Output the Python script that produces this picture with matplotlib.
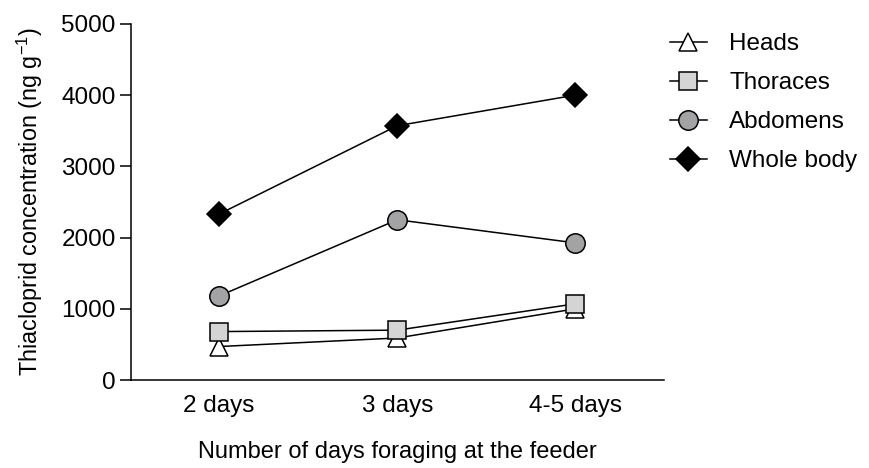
import matplotlib.pyplot as plt

plt.rcParams['font.family'] = ['Liberation Sans', 'DejaVu Sans']
plt.rcParams['mathtext.default'] = 'regular'

days = ["2 days", "3 days", "4-5 days"]
heads = [470, 590, 1000]
thoraces = [680, 700, 1070]
abdomens = [1180, 2250, 1925]
whole_body = [2330, 3570, 4000]

fig = plt.figure(figsize=(8.69, 4.68), dpi=100)
ax = fig.add_axes([0.1507, 0.188, 0.613, 0.761])

x = range(len(days))
ax.plot(x, heads, color="black", lw=1.1, marker="^", ms=13.5, mfc="white", mec="black", mew=1.1, label="Heads")
ax.plot(x, thoraces, color="black", lw=1.1, marker="s", ms=13.5, mfc="#d4d4d4", mec="black", mew=1.1, label="Thoraces")
ax.plot(x, abdomens, color="black", lw=1.1, marker="o", ms=14, mfc="#a3a3a6", mec="black", mew=1.1, label="Abdomens")
ax.plot(x, whole_body, color="black", lw=1.1, marker="D", ms=12, mfc="black", mec="black", mew=1.1, label="Whole body")

ax.set_xlim(-0.495, 2.495)
ax.set_ylim(0, 5000)
ax.set_xticks(list(x))
ax.set_xticklabels(days)
ax.set_yticks([0, 1000, 2000, 3000, 4000, 5000])
ax.tick_params(axis="x", length=0, pad=11, labelsize=17.5)
ax.tick_params(axis="y", length=8, width=1.1, pad=3, labelsize=17.5)
ax.spines["top"].set_visible(False)
ax.spines["right"].set_visible(False)
ax.spines["left"].set_linewidth(1.1)
ax.spines["bottom"].set_linewidth(1.1)

ax.set_xlabel("Number of days foraging at the feeder", fontsize=17, labelpad=17)
ax.set_ylabel("Thiacloprid concentration (ng g$^{-1}$)", fontsize=16.8, labelpad=12)

ax.legend(loc="upper left", bbox_to_anchor=(0.97, 1.035), frameon=False, fontsize=17.5,
          handlelength=1.55, labelspacing=0.7, handletextpad=0.9)

fig.savefig("out.png", dpi=100)
